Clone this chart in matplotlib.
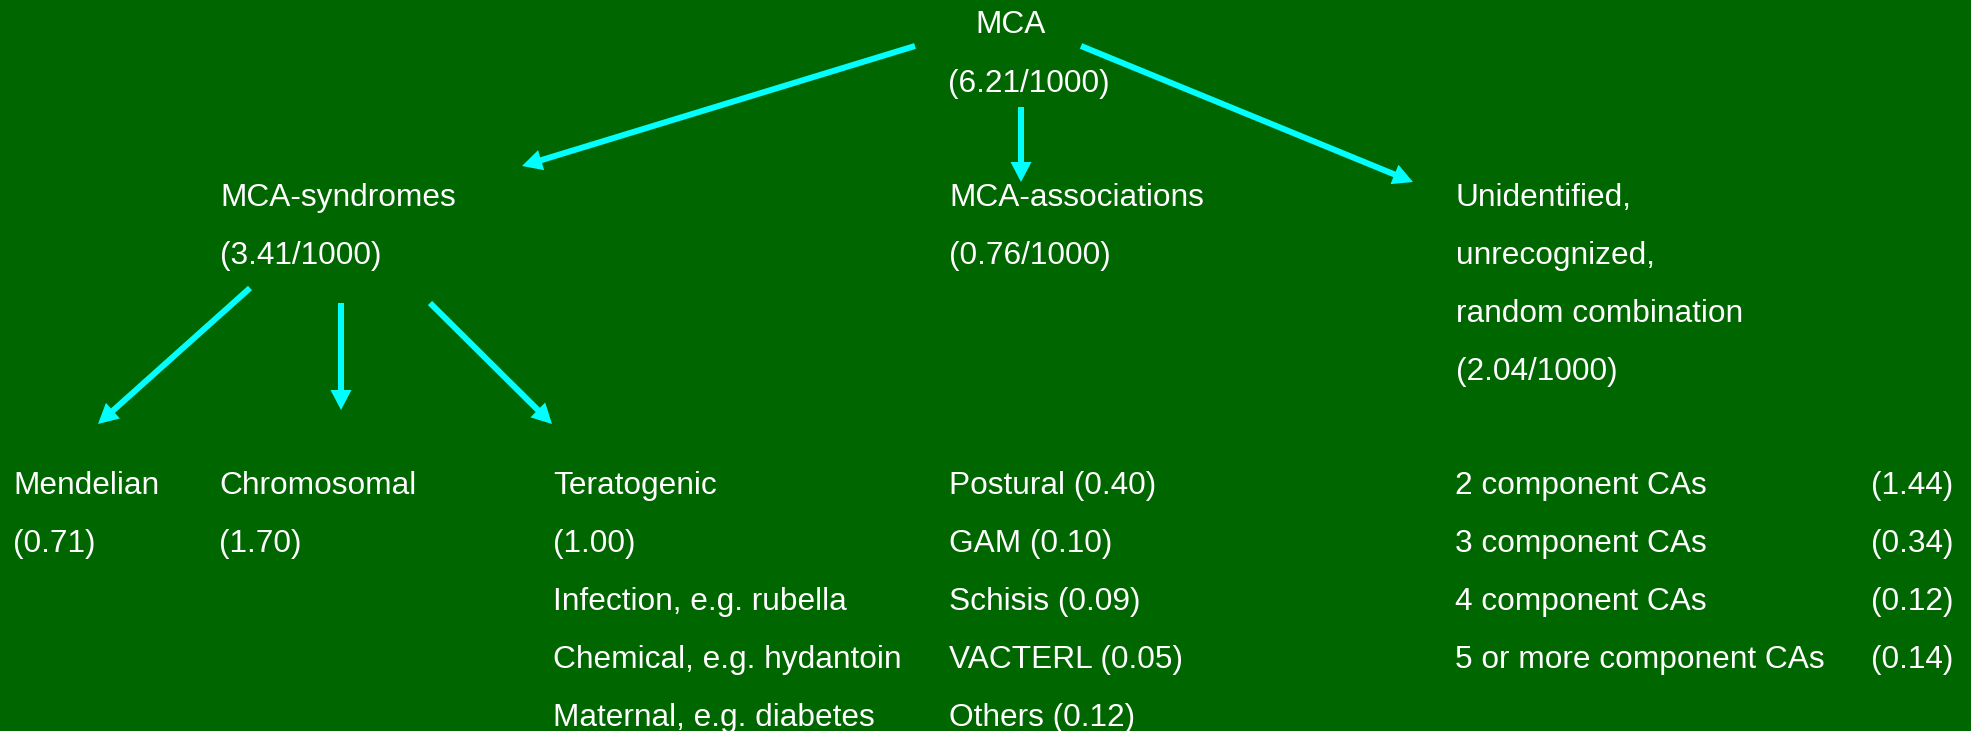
import matplotlib
matplotlib.use("Agg")
import matplotlib.pyplot as plt

# Prevalence values (per 1000 births)
total_rate = 6.21
group_names = ["MCA-syndromes", "MCA-associations", "Unidentified,\nunrecognized,\nrandom combination"]
group_rates = [3.41, 0.76, 2.04]

syndrome_names = ["Mendelian", "Chromosomal", "Teratogenic"]
syndrome_rates = [0.71, 1.70, 1.00]
teratogen_examples = ["Infection, e.g. rubella", "Chemical, e.g. hydantoin", "Maternal, e.g. diabetes"]

assoc_names = ["Postural", "GAM", "Schisis", "VACTERL", "Others"]
assoc_rates = [0.40, 0.10, 0.09, 0.05, 0.12]

combo_names = ["2 component CAs", "3 component CAs", "4 component CAs", "5 or more component CAs"]
combo_rates = [1.44, 0.34, 0.12, 0.14]

BG = "#006600"
ARROW = "#00ffff"
plt.rcParams["font.family"] = ["Liberation Sans", "DejaVu Sans"]
FS = 22.8
LINE = 58  # line spacing in pixels

fig = plt.figure(figsize=(19.71, 7.31), dpi=100, facecolor=BG)
ax = fig.add_axes([0, 0, 1, 1])
ax.set_facecolor(BG)
ax.set_xlim(0, 1971)
ax.set_ylim(731, 0)
ax.axis("off")


def lines(x, y0, texts):
    for i, t in enumerate(texts):
        ax.text(x, y0 + i * LINE, t, color="white", fontsize=FS, ha="left", va="baseline")


def arrow(p0, p1):
    # axes units are pixels, so width/head sizes are in pixels too
    ax.arrow(p0[0], p0[1], p1[0] - p0[0], p1[1] - p0[1], width=6,
             head_width=21, head_length=20, length_includes_head=True,
             color=ARROW, lw=0)


# top node
ax.text(1011, 33, "MCA", color="white", fontsize=FS, ha="center", va="baseline")
ax.text(1029, 92, f"({total_rate:.2f}/1000)", color="white", fontsize=FS, ha="center", va="baseline")

# second level
group_x = [220, 949, 1456]
for gx, name, rate in zip(group_x, group_names, group_rates):
    lines(gx, 206, name.split("\n") + [f"({rate:.2f}/1000)"])

arrow((915, 46), (522, 166))
arrow((1021, 107), (1021, 182))
arrow((1081, 46), (1413, 182))

# syndromes breakdown
arrow((250, 288), (98, 424))
arrow((341, 303), (341, 410))
arrow((430, 303), (552, 424))

syn_x = [13, 219, 553]
for sx, name, rate in zip(syn_x, syndrome_names, syndrome_rates):
    lines(sx, 494, [name, f"({rate:.2f})"])
lines(553, 494 + 2 * LINE, teratogen_examples)

# associations
lines(949, 494, [f"{n} ({r:.2f})" for n, r in zip(assoc_names, assoc_rates)])

# random combinations
lines(1455, 494, combo_names)
lines(1871, 494, [f"({r:.2f})" for r in combo_rates])

fig.savefig("out.png", dpi=100, facecolor=BG)
